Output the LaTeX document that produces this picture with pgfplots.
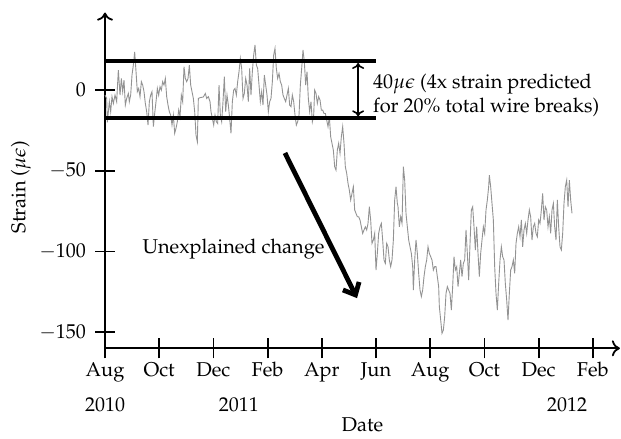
\documentclass[border=0pt]{standalone}
\usepackage[T1]{fontenc}
\usepackage{mathpazo}
\usepackage{pgfplots}
\pgfplotsset{compat=1.18}
\usetikzlibrary{arrows.meta}

% x = months since 1 Aug 2010, y = strain in microstrain
\pgfplotstableread{
m val
0 -3.1
0.062 -5.2
0.086 -20.0
0.16 -7.2
0.209 -13.4
0.258 -4.1
0.308 -8.3
0.369 -3.1
0.43 -7.2
0.492 12.4
0.554 -3.1
0.603 7.2
0.652 -1.0
0.701 6.2
0.75 -9.3
0.80 -5.2
0.861 -2.1
0.898 -7.2
0.947 -3.1
0.996 9.3
1.046 15.5
1.095 23.7
1.144 11.4
1.193 -1.0
1.242 1.0
1.292 -4.1
1.341 5.2
1.39 3.1
1.439 -1.0
1.488 -8.3
1.538 -13.4
1.587 -21.7
1.636 -7.2
1.685 -3.1
1.734 -1.0
1.784 -22.7
1.833 -14.5
1.882 -7.2
1.931 1.0
1.98 -3.1
2.03 2.1
2.079 0
2.128 5.2
2.177 3.1
2.226 7.2
2.276 -4.1
2.325 -9.3
2.374 -13.4
2.423 -15.5
2.472 -21.7
2.522 -15.5
2.571 -26.8
2.62 -23.7
2.669 -19.6
2.718 -12.4
2.768 -16.5
2.817 -3.1
2.866 -7.2
2.915 14.5
2.964 7.2
3.014 5.2
3.063 7.2
3.112 15.5
3.161 3.1
3.21 -1.0
3.26 -5.2
3.309 -13.4
3.358 -27.9
3.407 -32.0
3.444 -5.2
3.506 -4.7
3.628 -4.3
3.702 -2.1
3.752 -5.2
3.813 -4.1
3.875 -7.2
3.911 -13.4
3.961 -17.6
4.01 -21.7
4.059 -15.5
4.108 -19.6
4.157 -20.7
4.207 3.1
4.256 -15.5
4.305 -19.6
4.354 -7.2
4.403 8.3
4.453 -13.4
4.502 -3.1
4.551 -9.3
4.600 -17.6
4.649 -26.8
4.699 -7.2
4.748 0
4.797 1.0
4.846 -3.1
4.895 5.2
4.945 11.4
4.994 19.6
5.043 13.4
5.092 -5.2
5.141 -2.1
5.191 7.2
5.24 3.1
5.289 -7.2
5.338 13.4
5.387 -3.1
5.437 11.4
5.486 21.7
5.535 27.9
5.584 15.5
5.633 13.4
5.683 3.1
5.732 -7.2
5.781 -1.0
5.830 -9.3
5.879 9.3
5.929 3.1
5.978 -3.1
6.027 -13.4
6.076 -7.2
6.125 -5.2
6.175 5.2
6.224 21.7
6.273 25.8
6.322 13.4
6.371 7.2
6.421 10.3
6.470 5.2
6.519 3.1
6.568 -3.1
6.617 -5.2
6.667 -7.2
6.716 -3.1
6.765 1.0
6.814 -9.3
6.863 -10.3
6.913 -3.1
6.962 -7.2
7.011 -15.5
7.060 -21.7
7.109 -19.6
7.159 -15.5
7.208 3.1
7.257 13.4
7.306 24.8
7.355 17.6
7.405 3.1
7.454 11.4
7.503 -5.2
7.552 -13.4
7.601 -7.2
7.651 -19.6
7.70 -15.5
7.737 0
7.786 -2.1
7.835 -8.3
7.884 -4.1
7.934 -6.2
7.983 -12.4
8.032 -12.4
8.081 -14.5
8.130 -14.5
8.180 -18.6
8.229 -22.7
8.278 -16.5
8.327 -28.9
8.376 -33.0
8.426 -37.2
8.475 -47.5
8.524 -49.6
8.573 -37.2
8.622 -33.0
8.672 -39.2
8.721 -28.9
8.770 -22.7
8.819 -33.0
8.868 -47.5
8.918 -51.6
8.967 -57.8
9.016 -62.0
9.065 -68.1
9.114 -64.0
9.164 -59.9
9.213 -74.3
9.262 -76.4
9.311 -78.5
9.360 -78.5
9.410 -80.5
9.459 -84.7
9.508 -88.8
9.557 -86.7
9.606 -84.7
9.656 -86.7
9.705 -82.6
9.754 -72.3
9.803 -80.5
9.852 -95.0
9.902 -92.9
9.951 -88.8
10.0 -111.5
10.049 -101.2
10.098 -88.8
10.148 -84.7
10.197 -82.6
10.246 -92.9
10.295 -105.3
10.344 -107.4
10.394 -95.0
10.443 -97.1
10.492 -105.3
10.541 -109.4
10.590 -105.3
10.640 -92.9
10.689 -68.1
10.738 -59.9
10.787 -70.2
10.812 -72.3
10.861 -84.7
10.910 -78.5
10.960 -82.6
11.009 -47.5
11.058 -55.8
11.107 -76.4
11.156 -84.7
11.206 -92.9
11.255 -97.1
11.304 -101.2
11.353 -109.4
11.378 -123.9
11.427 -105.3
11.476 -92.9
11.525 -101.2
11.574 -113.6
11.624 -123.9
11.673 -128.0
11.722 -123.9
11.771 -115.6
11.820 -109.4
11.870 -105.3
11.919 -97.1
11.968 -101.2
12.017 -103.2
12.066 -105.3
12.116 -111.5
12.165 -109.4
12.214 -109.4
12.263 -115.6
12.312 -121.8
12.337 -134.2
12.386 -142.4
12.435 -150.7
12.485 -148.7
12.534 -140.4
12.583 -126.0
12.632 -121.8
12.681 -123.9
12.731 -126.0
12.780 -136.3
12.829 -121.8
12.878 -103.2
12.927 -111.5
12.977 -109.4
13.026 -121.8
13.075 -113.6
13.124 -105.3
13.173 -115.6
13.223 -107.4
13.272 -105.3
13.321 -86.7
13.370 -101.2
13.419 -117.7
13.469 -95.0
13.518 -74.3
13.567 -72.3
13.616 -84.7
13.665 -99.1
13.715 -84.7
13.764 -101.2
13.813 -115.6
13.862 -101.2
13.911 -92.9
13.961 -84.7
14.010 -88.8
14.059 -74.3
14.108 -68.1
14.157 -59.9
14.182 -52.7
14.231 -59.9
14.280 -70.2
14.330 -80.5
14.379 -109.4
14.428 -126.0
14.477 -136.3
14.526 -119.8
14.576 -105.3
14.625 -97.1
14.674 -103.2
14.723 -105.3
14.772 -119.8
14.822 -130.1
14.871 -142.5
14.920 -126.0
14.969 -111.5
15.018 -109.4
15.068 -105.3
15.117 -113.6
15.166 -95.0
15.215 -88.8
15.264 -84.7
15.314 -90.9
15.363 -80.5
15.412 -97.1
15.461 -86.7
15.510 -82.6
15.560 -88.8
15.609 -80.5
15.658 -74.3
15.707 -78.5
15.756 -92.9
15.806 -84.7
15.855 -82.6
15.904 -88.8
15.953 -90.9
16.002 -80.5
16.052 -82.6
16.101 -74.3
16.150 -64.0
16.199 -80.5
16.248 -72.3
16.298 -74.3
16.347 -84.7
16.396 -78.5
16.445 -88.8
16.494 -74.3
16.544 -70.2
16.593 -84.7
16.642 -92.9
16.691 -68.1
16.740 -84.7
16.790 -97.1
16.839 -99.1
16.888 -88.8
16.937 -70.2
16.986 -59.9
17.036 -55.8
17.085 -72.3
17.134 -55.8
17.183 -68.1
17.232 -76.4
}\straintable

\begin{document}
\begin{tikzpicture}
  \begin{axis}[
      scale only axis,
      width=257.5pt, height=167.9pt,
      xmin=0, xmax=19, ymin=-160, ymax=48,
      axis lines=left,
      axis line style={line width=0.9pt, -{To[length=4pt,width=8pt]}},
      tick style={line width=0.9pt, black},
      tick align=center,
      major tick length=10pt,
      xtick={0,2,4,6,8,10,12,14,16,18},
      xticklabels={Aug,Oct,Dec,Feb,Apr,Jun,Aug,Oct,Dec,Feb},
      x tick label style={yshift=1.5pt},
      ytick={-150,-100,-50,0},
      y tick label style={xshift=-1pt},
      xlabel={Date},
      x label style={at={(axis description cs:0.5,0)}, anchor=center, yshift=-38pt},
      ylabel={Strain ($\mu\epsilon$)},
      y label style={at={(axis description cs:0,0.48)}, anchor=center, rotate=0, yshift=42pt},
      clip=false,
    ]
    % bounding box of the whole figure
    \path (axis cs:-3.875,55.8) rectangle (axis cs:19.04,-211.3);

    \addplot[color=gray!85, line width=0.45pt] table[x=m, y=val] {\straintable};

    % +/- 20 microstrain band
    \addplot[black, line width=2pt] coordinates {(0,18) (10,18)};
    \addplot[black, line width=2pt] coordinates {(0,-17.5) (10,-17.5)};
    \draw[{To[length=3pt,width=6pt]}-{To[length=3pt,width=6pt]}, line width=0.8pt]
      (axis cs:9.34,16.8) -- (axis cs:9.34,-16.3);
    \node[anchor=west, align=left, inner sep=0pt] at (axis cs:9.88,-3.4)
      {40$\mu\epsilon$ (4x strain predicted\\for 20\% total wire breaks)};

    \draw[line width=2.4pt, -{Straight Barb[length=5pt,width=9pt]}]
      (axis cs:6.64,-39) -- (axis cs:9.30,-128.9);
    \node[anchor=west, inner sep=0pt] at (axis cs:1.37,-98.5) {Unexplained change};

    % year labels
    \node at (axis cs:0,-160) [yshift=-28pt] {2010};
    \node at (axis cs:4.94,-160) [yshift=-28pt] {2011};
    \node at (axis cs:17.05,-160) [yshift=-28pt] {2012};
  \end{axis}
\end{tikzpicture}
\end{document}
